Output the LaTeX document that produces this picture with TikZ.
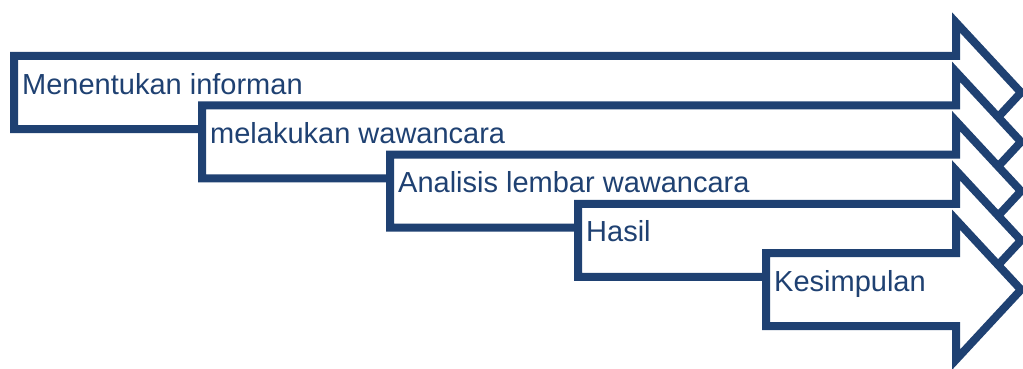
\documentclass[tikz,border=0pt]{standalone}
\usepackage{fontspec}
\setmainfont{Liberation Sans}
\usetikzlibrary{shadows}
\definecolor{navy}{RGB}{31,65,114}
\begin{document}
\begin{tikzpicture}[x=1pt,y=-1pt,
  arrowshape/.style={draw=navy,line width=8pt,fill=white,line join=miter,
    drop shadow={opacity=0.25,shadow xshift=2pt,shadow yshift=-2pt,fill=black!60}},
  steplabel/.style={anchor=base west,inner sep=0pt,text=navy,font=\fontsize{29}{31}\selectfont}]
\useasboundingbox (0,0) rectangle (1023,369);
\def\H{956}\def\X{1021}\def\h{70}
\foreach \i/\txt/\nm in {0/Menentukan informan/s1,1/melakukan wawancara/s2,2/Analisis lembar wawancara/s3,3/Hasil/s4,4/Kesimpulan/s5}{
  \pgfmathsetmacro\L{14+188*\i}
  \pgfmathsetmacro\T{56+49.3*\i}
  \pgfmathsetmacro\B{\T+73}
  \pgfmathsetmacro\C{\T+36.5}
  \path[arrowshape] (\L,\T) -- (\H,\T) -- (\H,\C-\h) -- (\X,\C) -- (\H,\C+\h) -- (\H,\B) -- (\L,\B) -- cycle;
  \node[steplabel] (\nm) at (\L+8,\T+38) {\txt};
}
\end{tikzpicture}
\end{document}
